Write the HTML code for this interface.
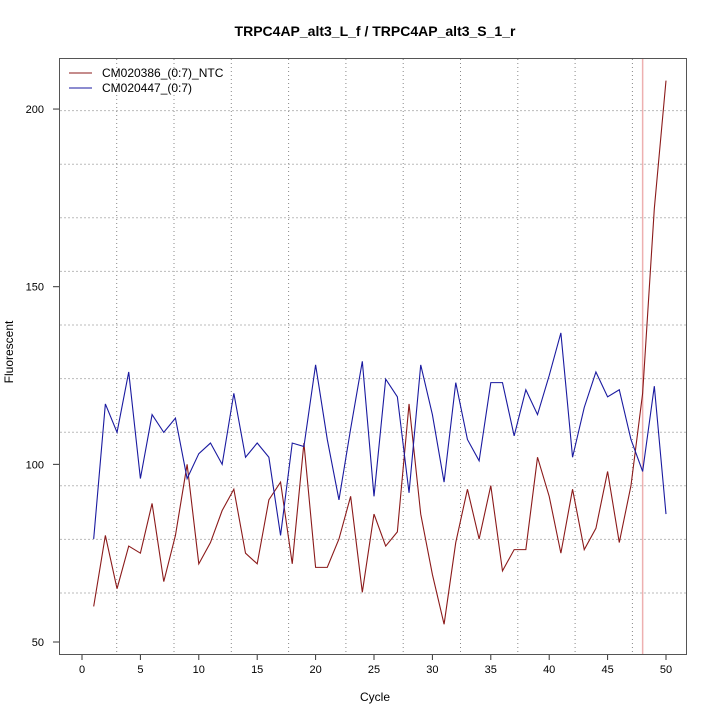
<!DOCTYPE html>
<html><head><meta charset="utf-8"><style>
body{margin:0;background:#fff}
svg{display:block;font-family:"Liberation Sans",sans-serif}
</style></head><body>
<svg id="chart" width="720" height="720" viewBox="0 0 720 720">
<rect width="720" height="720" fill="#fff"/>
<text x="375" y="36" text-anchor="middle" font-weight="bold" font-size="14">TRPC4AP_alt3_L_f / TRPC4AP_alt3_S_1_r</text>
<text x="375" y="701" text-anchor="middle" font-size="12">Cycle</text>
<text transform="translate(13,352) rotate(-90)" text-anchor="middle" font-size="12">Fluorescent</text>
<g id="grid"></g>
<g id="axes"></g>
<g id="series"></g>
<rect x="59.5" y="58.5" width="627" height="596" fill="none" stroke="#555" stroke-width="1"/>
<g>
<line x1="69" y1="73" x2="92" y2="73" stroke="#8b1a1a"/>
<text x="102" y="77" font-size="12">CM020386_(0:7)_NTC</text>
<line x1="69" y1="88" x2="92" y2="88" stroke="#1a1aa0"/>
<text x="102" y="92" font-size="12">CM020447_(0:7)</text>
</g>
</svg>
<script>
const cycles = Array.from({length:50},(_,i)=>i+1);
const ntcValues = [60,80,65,77,75,89,67,80,100,72,78,87,93,75,72,90,95,72,106,71,71,79,91,64,86,77,81,117,86,69,55,78,93,79,94,70,76,76,102,91,75,93,76,82,98,78,94,120,172,208];
const sampleValues = [79,117,109,126,96,114,109,113,96,103,106,100,120,102,106,102,80,106,105,128,107,90,110,129,91,124,119,92,128,114,95,123,107,101,123,123,108,121,114,125,137,102,116,126,119,121,107,98,122,86];
const xTicks = [0,5,10,15,20,25,30,35,40,45,50];
const yTicks = [50,100,150,200];
const thresholdCycle = 48;

const NS="http://www.w3.org/2000/svg";
const xs = c => 82 + c*11.68;
const ys = v => 642 - (v-50)*3.553;
function mk(tag, attrs, parent){const e=document.createElementNS(NS,tag);for(const k in attrs)e.setAttribute(k,attrs[k]);parent.appendChild(e);return e;}
const grid=document.getElementById('grid'), axes=document.getElementById('axes'), series=document.getElementById('series');
for(let k=0;k<10;k++){const x=116.7+57.3*k;
 const l=mk('line',{x1:x,y1:59,x2:x,y2:654,stroke:'#888','stroke-dasharray':'1,3'},grid);
 
 }
for(let k=0;k<10;k++){const y=593-53.6*k; if(y<60)break;
 const l=mk('line',{x1:60,y1:y,x2:686,y2:y,stroke:'#bbb','stroke-dasharray':'2,2'},grid);
 
 }
xTicks.forEach(t=>{
 const l=mk('line',{x1:xs(t),y1:654,x2:xs(t),y2:660,stroke:'#333'},axes);
 
 
 const tx=mk('text',{x:xs(t),y:673,'text-anchor':'middle','font-size':'11'},axes);tx.textContent=t;
 
 });
yTicks.forEach(t=>{
 const l=mk('line',{x1:53,y1:ys(t),x2:59,y2:ys(t),stroke:'#333'},axes);
 
 
 const tx=mk('text',{x:44,y:ys(t)+4,'text-anchor':'end','font-size':'11'},axes);tx.textContent=t;
 
 });
const th=mk('line',{x1:xs(thresholdCycle),y1:59,x2:xs(thresholdCycle),y2:654,stroke:'#eeb0b0','stroke-width':1.5},series);


const p1=mk('polyline',{points:cycles.map((c,i)=>xs(c)+','+ys(ntcValues[i])).join(' '),fill:'none',stroke:'#8b1a1a','stroke-width':1.1},series);


const p2=mk('polyline',{points:cycles.map((c,i)=>xs(c)+','+ys(sampleValues[i])).join(' '),fill:'none',stroke:'#1a1aa0','stroke-width':1.1},series);


</script>
</body></html>
